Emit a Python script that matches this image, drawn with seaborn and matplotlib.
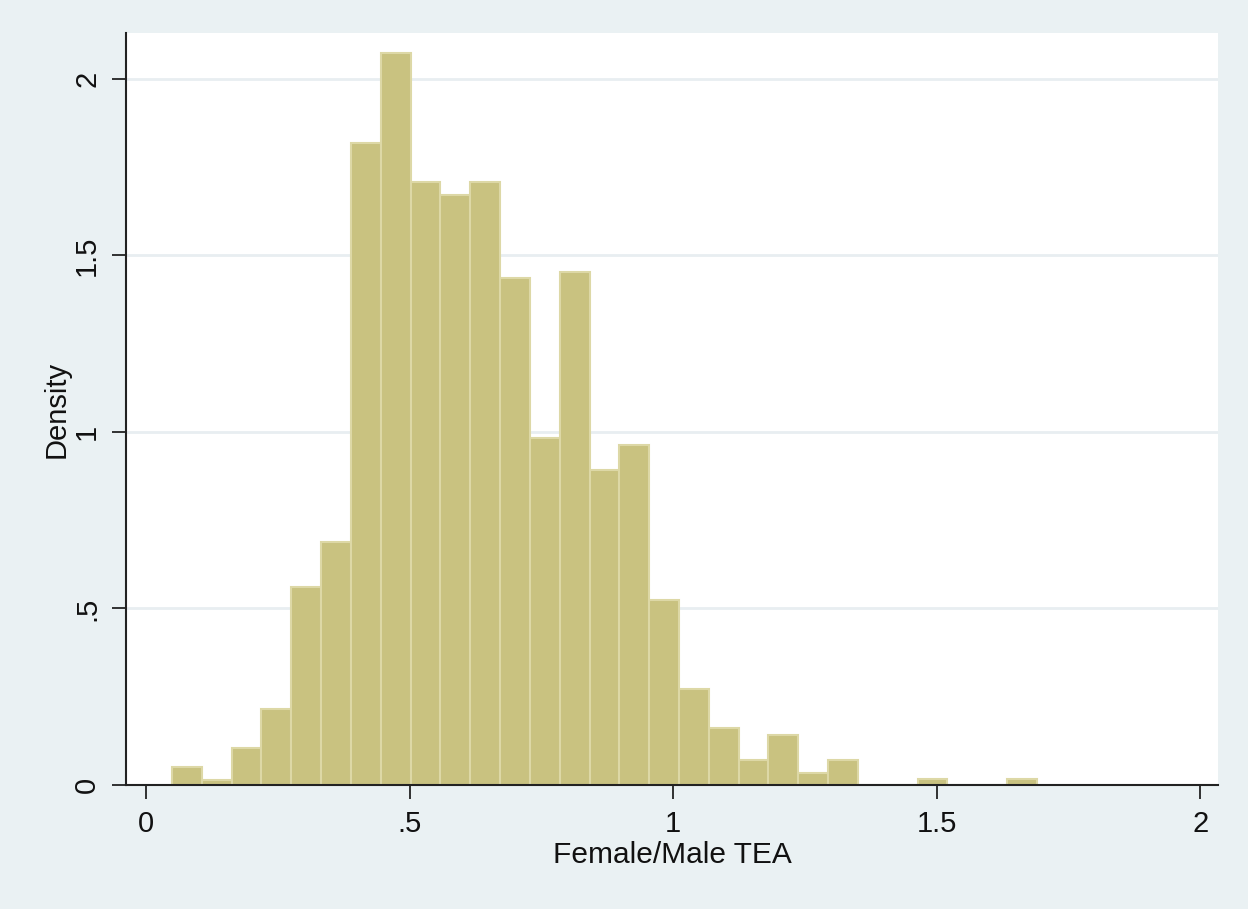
import numpy as np
import pandas as pd
import matplotlib
matplotlib.use("Agg")
import matplotlib.pyplot as plt
import seaborn as sns

# bin layout
bin_start = 0.049
bin_width = 0.0566
n_bins = 29

# density of each bin, left to right
density = [0.052, 0.014, 0.106, 0.216, 0.561, 0.688, 1.819, 2.074, 1.708, 1.672,
           1.708, 1.436, 0.983, 1.454, 0.892, 0.963, 0.524, 0.272, 0.161, 0.071,
           0.142, 0.034, 0.071, 0.0, 0.0, 0.017, 0.0, 0.0, 0.017]

tick_vals = [0, 0.5, 1, 1.5, 2]
tick_labels = ["0", ".5", "1", "1.5", "2"]

edges = bin_start + bin_width * np.arange(n_bins + 1)
centers = (edges[:-1] + edges[1:]) / 2
df = pd.DataFrame({"tea_ratio": centers, "density": density})

bg = "#EAF1F3"
sns.set_style("white")
plt.rcParams["font.family"] = ["Liberation Sans", "DejaVu Sans"]

fig = plt.figure(figsize=(12.48, 9.09), dpi=100, facecolor=bg)
ax = fig.add_axes([0.101, 0.1364, 0.875, 0.8273])
ax.set_facecolor("white")

for v in tick_vals[1:]:
    ax.axhline(v, color="#E8EEF1", lw=2, zorder=0)

sns.histplot(data=df, x="tea_ratio", weights="density", bins=n_bins,
             binrange=(edges[0], edges[-1]), stat="count",
             color="#C9C280", edgecolor="#DDD8A6", linewidth=1.5, alpha=1,
             ax=ax, zorder=2)

ax.set_xlim(-0.038, 2.034)
ax.set_ylim(0, 2.13)
ax.set_xticks(tick_vals)
ax.set_xticklabels(tick_labels)
ax.set_yticks(tick_vals)
ax.set_yticklabels(tick_labels, rotation=90, va="center")
ax.tick_params(axis="both", length=10, width=1.3, color="#222222",
               labelsize=21, labelcolor="#111111", pad=8)
ax.tick_params(axis="x", direction="out", bottom=True)
ax.tick_params(axis="y", direction="out", left=True)

for s in ["top", "right"]:
    ax.spines[s].set_visible(False)
for s in ["left", "bottom"]:
    ax.spines[s].set_color("#222222")
    ax.spines[s].set_linewidth(1.5)

ax.set_xlabel("Female/Male TEA", fontsize=21.5, color="#111111", labelpad=2)
ax.set_ylabel("Density", fontsize=21, color="#111111", labelpad=2)

fig.savefig("out.png", dpi=100, facecolor=bg)
